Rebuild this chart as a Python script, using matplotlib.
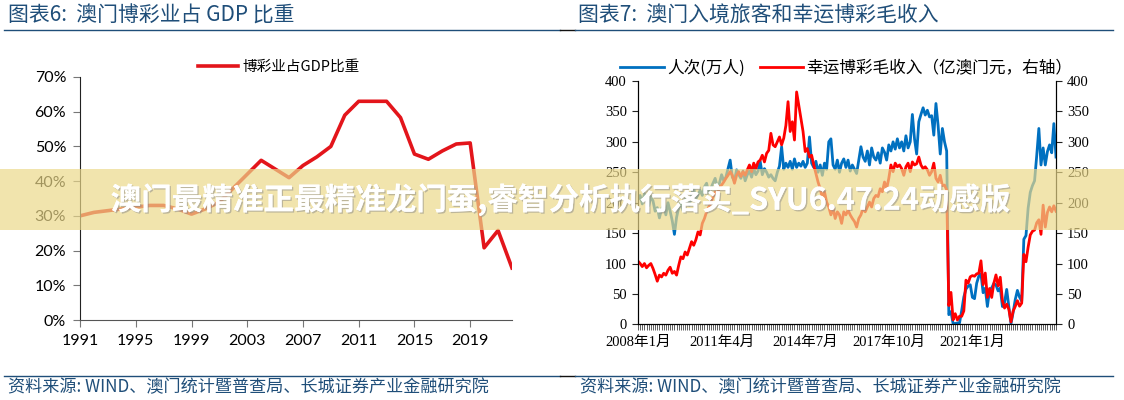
import numpy as np
import matplotlib
matplotlib.use("Agg")
import matplotlib.pyplot as plt
from matplotlib.patches import Rectangle
from matplotlib.lines import Line2D
import matplotlib.patheffects as pe

CJK = ['Noto Sans CJK SC', 'DejaVu Sans']
SANS = ['Lato', 'Noto Sans CJK SC']
SERIF = ['Liberation Serif', 'Noto Sans CJK SC']
plt.rcParams['font.family'] = CJK

# 图表6 数据
years = list(range(1991, 2023))
gdp_share = [30.0, 31.0, 31.5, 32.0, 32.5, 33.0, 33.0, 32.0, 30.5, 32.0,
             34.0, 38.0, 42.0, 46.0, 43.5, 41.0, 44.5, 47.0, 50.0, 59.0,
             63.0, 63.0, 63.0, 58.3, 47.8, 46.3, 48.7, 50.7, 51.0, 20.8,
             25.8, 15.0]

# 图表7 数据 (2008年1月 - 2024年4月)
visitors = [
    205, 212, 198, 215, 202, 195, 210, 203, 186, 192, 175, 190,
    196, 180, 200, 186, 170, 148, 176, 192, 200, 187, 205, 210,
    196, 214, 224, 206, 214, 220, 212, 226, 232, 216, 224, 232,
    240, 226, 232, 246, 236, 242, 256, 270, 242, 236, 254, 246,
    240, 252, 236, 246, 252, 242, 256, 246, 252, 268, 246, 256,
    250, 242, 246, 240, 236, 250, 260, 292, 255, 265, 258, 268,
    255, 272, 258, 265, 260, 268, 258, 265, 308, 265, 258, 268,
    250, 262, 245, 265, 255, 300, 305, 262, 255, 270, 250, 265,
    272, 258, 270, 252, 262, 255, 248, 270, 292, 275, 268, 285,
    262, 290, 275, 270, 282, 265, 290, 283, 270, 295, 285, 300,
    288, 305, 290, 300, 285, 310, 290, 300, 345, 305, 280, 333,
    345, 356, 344, 352, 341, 343, 311, 363, 327, 280, 322, 300,
    285, 16, 21, 1.1, 1.6, 2.3, 2.3, 22.7, 44.9, 58.1, 62.7, 65.1,
    44.5, 42.3, 67.6, 79.5, 83.3, 52.1, 59.5, 29.5, 56.6, 60.1, 67.3, 64.9,
    55.0, 59.8, 29.4, 36.2, 57.5, 29.5, 0.9, 19.7, 40.9, 55.9, 44.8, 38.3,
    140, 146, 191, 217, 228, 236, 277, 322, 262, 290, 262, 284,
    295, 282, 330, 275,
]
ggr = [
    104, 100, 95, 100, 93, 97, 100, 92, 82, 71, 81, 78,
    84, 81, 89, 94, 84, 87, 81, 97, 111, 108, 119, 114,
    125, 136, 130, 139, 152, 147, 166, 174, 185, 193, 199, 210,
    218, 212, 226, 229, 234, 240, 245, 251, 245, 232, 245, 251,
    243, 251, 245, 254, 262, 251, 265, 256, 267, 270, 278, 267,
    281, 286, 314, 295, 292, 300, 308, 295, 306, 327, 366, 317,
    333, 303, 382, 360, 338, 317, 284, 289, 275, 278, 262, 248,
    234, 223, 207, 218, 201, 193, 180, 191, 174, 185, 180, 166,
    185, 180, 188, 180, 174, 169, 160, 174, 180, 191, 185, 193,
    201, 193, 207, 212, 210, 223, 218, 234, 223, 240, 262, 251,
    265, 259, 262, 256, 245, 259, 265, 251, 267, 262, 264, 275,
    262, 256, 259, 254, 245, 251, 265, 240, 234, 245, 228, 229,
    221, 31, 52.6, 7.5, 17.6, 7.2, 13.4, 13.3, 22.1, 72.7, 67.5, 78.2,
    80.2, 79.2, 83.1, 84.0, 104.5, 65.4, 84.4, 44.4, 59.0, 44.3, 67.5, 81.3,
    63.4, 77.5, 39.3, 26.8, 33.4, 24.8, 4.0, 21.9, 29.6, 39.0, 29.9, 35.0,
    115, 103, 127, 147, 153, 155, 167, 172, 148, 196, 160, 184,
    193, 185, 195, 186,
]
month_labels = [f"{2008 + i // 12}年{i % 12 + 1}月" for i in range(len(visitors))]
label_pos = [0, 39, 78, 117, 156]

title_left = "图表6:  澳门博彩业占 GDP 比重"
title_right = "图表7:  澳门入境旅客和幸运博彩毛收入"
source = "资料来源: WIND、澳门统计暨普查局、长城证券产业金融研究院"
banner = "澳门最精准正最精准龙门蚕,睿智分析执行落实_SYU6.47.24动感版"

navy = '#1F4E79'

fig = plt.figure(figsize=(11.24, 4.0), dpi=100)

# ---- 左图
ax1 = fig.add_axes([0.0712, 0.2, 0.3843, 0.6075])
ax1.plot(years, gdp_share, color='#E3151B', lw=2.6, label='博彩业占GDP比重')
ax1.set_xlim(1991, 2022)
ax1.set_ylim(0, 70)
ax1.set_xticks(years[::4])
ax1.set_yticks(range(0, 71, 10))
ax1.set_yticklabels([f"{v}%" for v in range(0, 71, 10)])
for s in ['top', 'right']:
    ax1.spines[s].set_visible(False)
ax1.spines['left'].set_color('#222222')
ax1.spines['bottom'].set_color('#555555')
ax1.tick_params(direction='out', length=5, color='#777777', labelsize=11.5, pad=5)
for lab in ax1.get_xticklabels() + ax1.get_yticklabels():
    lab.set_family(SANS)
ax1.legend(loc='center', bbox_to_anchor=(0.248, 0.833), bbox_transform=fig.transFigure,
           frameon=False, fontsize=10.5, handlelength=2.7, handletextpad=0.3)

# ---- 右图
x = np.arange(len(visitors))
ax2 = fig.add_axes([0.5676, 0.189, 0.3719, 0.6085])
l1, = ax2.plot(x, visitors, color='#0070C0', lw=2.0, label='人次(万人)')
ax3 = ax2.twinx()
l2, = ax3.plot(x, ggr, color='#FF0000', lw=2.0, label='幸运博彩毛收入（亿澳门元，右轴）')
for a in (ax2, ax3):
    a.set_xlim(0, len(x) - 1)
    a.set_ylim(0, 400)
    a.set_yticks(range(0, 401, 50))
    a.spines['top'].set_visible(False)
    a.tick_params(axis='y', direction='out', length=4, color='#222222', labelsize=10.5, pad=4)
ax2.set_xticks(label_pos)
ax2.set_xticklabels([month_labels[i] for i in label_pos])
ax2.set_xticks(x, minor=True)
ax2.tick_params(axis='x', which='both', direction='out', length=4, color='#444444',
                width=0.6, labelsize=10.5, pad=4)
for lab in ax2.get_xticklabels() + ax2.get_yticklabels() + ax3.get_yticklabels():
    lab.set_family(SERIF)
fig.legend(handles=[l1, l2], loc='center', bbox_to_anchor=(0.753, 0.83),
           frameon=False, ncol=2, fontsize=12, handlelength=2.6, handletextpad=0.2,
           columnspacing=0.9)

# ---- 标题、分隔线、来源
fig.text(0.007, 0.962, title_left, color=navy, fontsize=15, style='italic',
         ha='left', va='center')
fig.text(0.514, 0.962, title_right, color=navy, fontsize=15, style='italic',
         ha='left', va='center')
for y in (0.925, 0.06):
    fig.add_artist(Line2D([0.004, 0.498], [y, y], transform=fig.transFigure, color=navy, lw=1))
    fig.add_artist(Line2D([0.498, 0.512], [y, y], transform=fig.transFigure, color='#111111', lw=1))
    fig.add_artist(Line2D([0.512, 0.99], [y, y], transform=fig.transFigure, color=navy, lw=1))
fig.text(0.007, 0.031, source, color=navy, fontsize=12.3, style='italic', ha='left', va='center')
fig.text(0.516, 0.031, source, color=navy, fontsize=12.3, style='italic', ha='left', va='center')

# ---- 横幅
fig.add_artist(Rectangle((0, 0.425), 1, 0.1525, transform=fig.transFigure,
                         facecolor=(235 / 255, 216 / 255, 137 / 255), alpha=0.69,
                         edgecolor='none', zorder=10))
fig.text(0.498, 0.5, banner, color='white', fontsize=22, fontweight='bold',
         ha='center', va='center', zorder=11,
         path_effects=[pe.withSimplePatchShadow(offset=(1, -1), shadow_rgbFace='#888888', alpha=0.5),
                       pe.Normal()])

fig.savefig('out.png', dpi=100)
